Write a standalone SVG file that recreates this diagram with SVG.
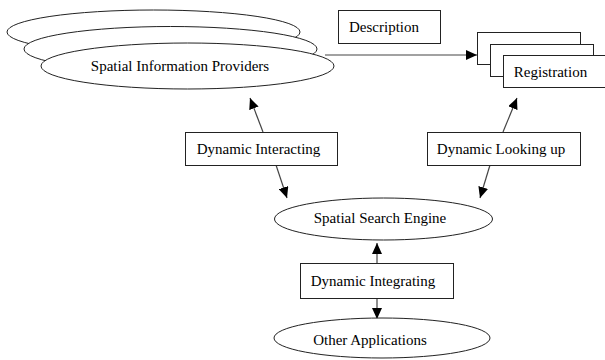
<svg xmlns="http://www.w3.org/2000/svg" width="605" height="360" viewBox="0 0 605 360">
<defs>
<style>
.sh{fill:#fff;stroke:#222;stroke-width:1}
.t{font-family:'Liberation Serif','Times New Roman','DejaVu Serif',serif;font-size:15px;fill:#000;text-anchor:middle}
.c{stroke:#444;stroke-width:1.2;fill:none;marker-end:url(#ah)}
</style>
<marker id="ah" markerUnits="userSpaceOnUse" markerWidth="12" markerHeight="10" refX="11" refY="5" orient="auto">
<path d="M0,0 L11,5 L0,10 z" fill="#000"/>
</marker>
</defs>
<rect width="605" height="360" fill="#fff"/>
<g id="connectors">
<line class="c" x1="325" y1="55" x2="477" y2="55"/>
<line class="c" x1="263" y1="132" x2="250" y2="98"/>
<line class="c" x1="276" y1="165" x2="287" y2="198"/>
<line class="c" x1="503" y1="132" x2="517" y2="98"/>
<line class="c" x1="490" y1="165" x2="480" y2="198"/>
<line class="c" x1="377" y1="263" x2="377" y2="243"/>
<line class="c" x1="377" y1="299" x2="377" y2="319"/>
</g>
<g id="providers">
<ellipse class="sh" cx="153.5" cy="32" rx="146.5" ry="22"/>
<ellipse class="sh" cx="170.5" cy="49" rx="146.5" ry="22.5"/>
<ellipse class="sh" cx="187.5" cy="66" rx="146.5" ry="23"/>
<text class="t" font-family="Liberation Serif, serif" x="180" y="71">Spatial Information Providers</text>
</g>
<g id="description">
<rect class="sh" x="338.5" y="10.5" width="102" height="33"/>
<text class="t" x="384" y="32">Description</text>
</g>
<g id="registration">
<rect class="sh" x="477.5" y="32.5" width="103" height="32"/>
<rect class="sh" x="490.5" y="44.5" width="103" height="32"/>
<rect class="sh" x="503.5" y="55.5" width="103" height="32"/>
<text class="t" x="550.5" y="77">Registration</text>
</g>
<g id="interacting">
<rect class="sh" x="185.5" y="132.5" width="152" height="33"/>
<text class="t" x="258.5" y="154">Dynamic Interacting</text>
</g>
<g id="looking">
<rect class="sh" x="427.5" y="132.5" width="153" height="33"/>
<text class="t" x="501" y="154">Dynamic Looking up</text>
</g>
<g id="engine">
<ellipse class="sh" cx="383.5" cy="219" rx="109" ry="21"/>
<text class="t" x="380" y="223">Spatial Search Engine</text>
</g>
<g id="integrating">
<rect class="sh" x="300.5" y="263.5" width="153" height="35"/>
<text class="t" x="373" y="286">Dynamic Integrating</text>
</g>
<g id="other">
<ellipse class="sh" cx="382" cy="338" rx="108" ry="20"/>
<text class="t" x="370" y="345">Other Applications</text>
</g>
</svg>
